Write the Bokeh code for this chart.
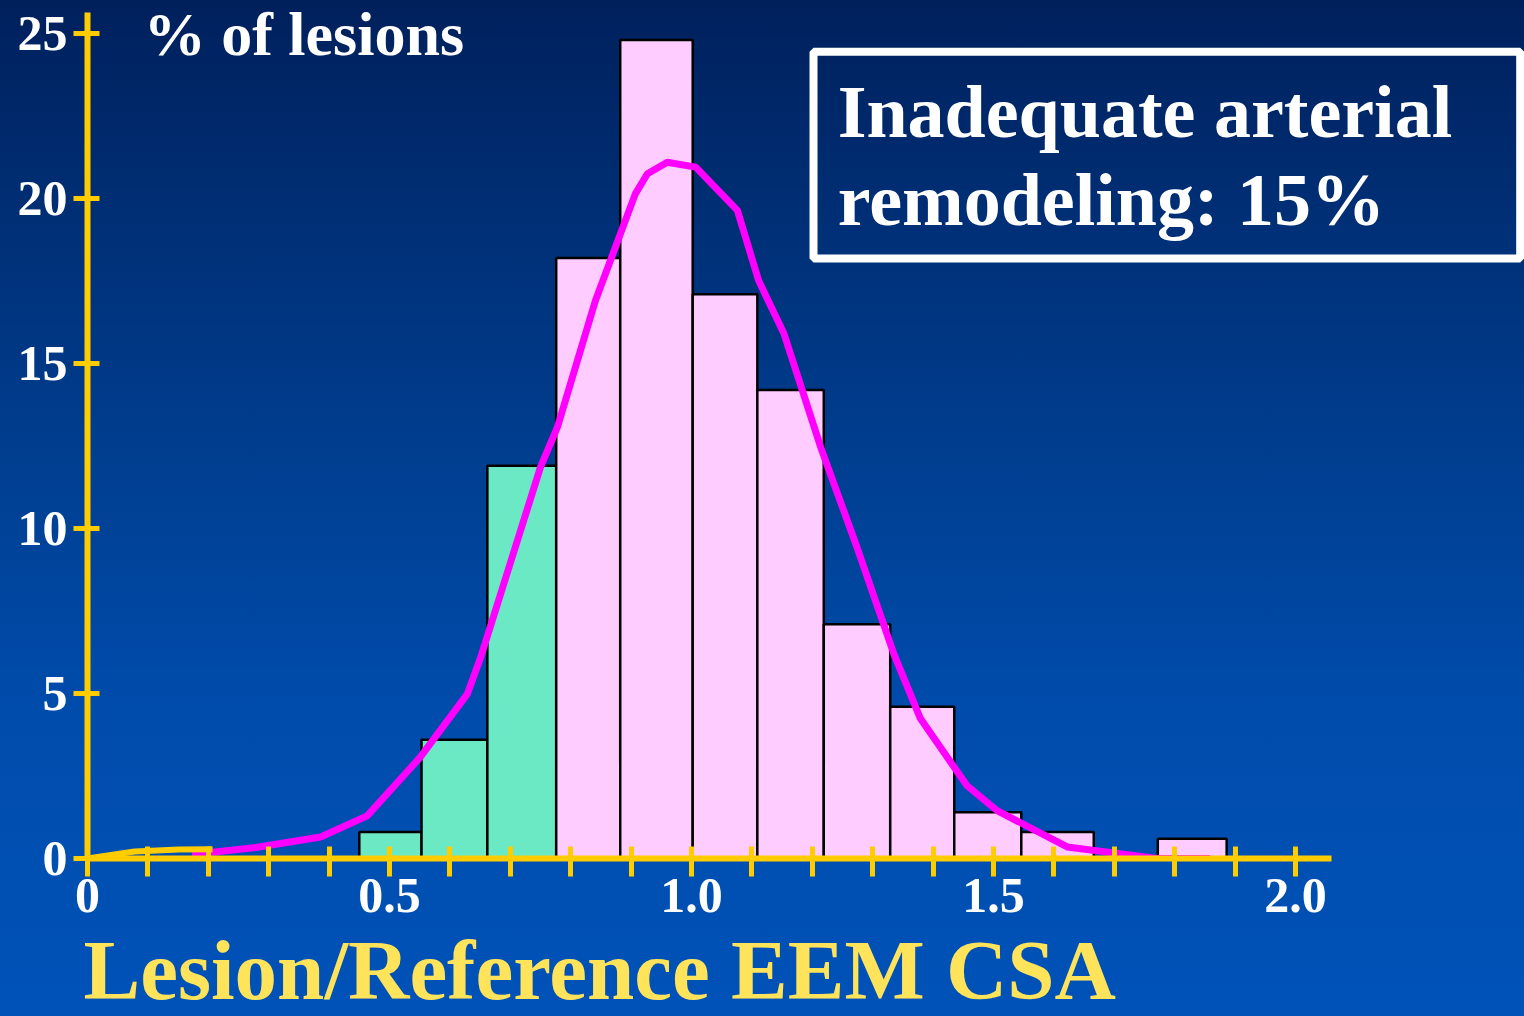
from bokeh.plotting import figure
from bokeh.models import ColumnDataSource, FixedTicker, Label, BoxAnnotation, Range1d, Title
from bokeh.embed import file_html
from bokeh.resources import INLINE

# ---- data ----
bin_left = [0.450, 0.553, 0.662, 0.776, 0.882, 1.002, 1.109, 1.219, 1.329, 1.435, 1.546, 1.772]
bin_right = [0.553, 0.662, 0.776, 0.882, 1.002, 1.109, 1.219, 1.329, 1.435, 1.546, 1.666, 1.886]
pct_lesions = [0.8, 3.6, 11.9, 18.2, 24.8, 17.1, 14.2, 7.1, 4.6, 1.4, 0.8, 0.6]
remodeling = ["inadequate"] * 3 + ["adequate"] * 9

curve_x = [0.173, 0.281, 0.386, 0.463, 0.551, 0.629, 0.651, 0.750, 0.778, 0.841, 0.907, 0.927,
           0.960, 1.007, 1.076, 1.111, 1.153, 1.214, 1.274, 1.335, 1.379, 1.456, 1.506, 1.622,
           1.771, 1.859]
curve_y = [0.12, 0.34, 0.65, 1.29, 3.07, 4.99, 6.10, 11.86, 13.07, 16.91, 20.14, 20.75,
           21.10, 20.95, 19.64, 17.52, 15.91, 12.46, 9.43, 6.20, 4.24, 2.21, 1.45, 0.35,
           0.0, 0.0]
tail_x = [0.0, 0.078, 0.151, 0.207]
tail_y = [0.0, 0.21, 0.27, 0.28]

x_major = [0, 0.5, 1.0, 1.5, 2.0]
x_minor = [0.1, 0.2, 0.3, 0.4, 0.6, 0.7, 0.8, 0.9, 1.1, 1.2, 1.3, 1.4, 1.6, 1.7, 1.8, 1.9]
x_labels = {0: "0", 0.5: "0.5", 1: "1.0", 1.5: "1.5", 2: "2.0"}
y_major = [0, 5, 10, 15, 20, 25]

GOLD = "#FFCC00"
FONT = "Liberation Serif"

colors = ["#6BE8C4" if r == "inadequate" else "#FFCCFF" for r in remodeling]
src = ColumnDataSource(dict(left=bin_left, right=bin_right, top=pct_lesions,
                            bottom=[0] * len(pct_lesions), color=colors))

p = figure(width=1524, height=1016, output_backend="svg", toolbar_location=None,
           x_range=Range1d(0, 1437 / 604), y_range=Range1d(0, 858 / 33),
           styles={"background": "linear-gradient(to bottom, #00205C 0%, #002E74 20%, #003E90 45%, #004CAC 70%, #0052B8 100%)"})
p.min_border = 0
p.min_border_left = 87
p.min_border_bottom = 158
p.min_border_top = 0
p.min_border_right = 0
p.background_fill_alpha = 0
p.border_fill_alpha = 0
p.outline_line_alpha = 0
p.grid.visible = False

p.quad(left="left", right="right", top="top", bottom="bottom", source=src,
       fill_color="color", line_color="black", line_width=2.5)

p.line(curve_x, curve_y, line_color="#FF00FF", line_width=7)
p.line(tail_x, tail_y, line_color=GOLD, line_width=6)

# axes
for ax in (p.xaxis[0], p.yaxis[0]):
    ax.axis_line_color = GOLD
    ax.axis_line_width = 6
    ax.major_tick_line_color = GOLD
    ax.major_tick_line_width = 5
    ax.minor_tick_line_color = GOLD
    ax.minor_tick_line_width = 5
    ax.major_label_text_color = "white"
    ax.major_label_text_font = FONT
    ax.major_label_text_font_style = "bold"
    ax.major_label_text_font_size = "50px"

xa = p.xaxis[0]
xa.ticker = FixedTicker(ticks=x_major, minor_ticks=x_minor)
xa.major_label_overrides = x_labels
xa.bounds = (0, 2.06)
xa.major_tick_in = 12
xa.major_tick_out = 18
xa.minor_tick_in = 12
xa.minor_tick_out = 18
xa.major_label_standoff = 2
# spacer between the tick labels and the left-aligned axis title below
xa.axis_label = " "
xa.axis_label_text_font_size = "1px"
xa.axis_label_standoff = 30

ya = p.yaxis[0]
ya.ticker = FixedTicker(ticks=y_major)
ya.bounds = (0, 25.64)
ya.major_tick_in = 12
ya.major_tick_out = 14
ya.minor_tick_line_alpha = 0
ya.major_label_standoff = 6

# x-axis title, left aligned under the axis
p.add_layout(Title(text="Lesion/Reference EEM CSA", align="left", offset=-4, standoff=-56,
                   text_color="#FFE35A", text_font=FONT, text_font_style="bold",
                   text_font_size="85px"), "below")

# texts
p.add_layout(Label(x=0.093, y=25.0, text="% of lesions", text_color="white",
                   text_font=FONT, text_font_style="bold", text_font_size="62px",
                   text_baseline="alphabetic"))

p.add_layout(BoxAnnotation(left=1.202, right=2.372, top=24.45, bottom=18.18,
                           fill_alpha=0, line_color="white", line_alpha=1.0, line_width=8))
p.add_layout(Label(x=1.242, y=22.61, text="Inadequate arterial", text_color="white",
                   text_font=FONT, text_font_style="bold", text_font_size="74px",
                   text_baseline="alphabetic"))
p.add_layout(Label(x=1.242, y=19.94, text="remodeling: 15%", text_color="white",
                   text_font=FONT, text_font_style="bold", text_font_size="74px",
                   text_baseline="alphabetic"))

open("out.html", "w").write(file_html(p, INLINE))
